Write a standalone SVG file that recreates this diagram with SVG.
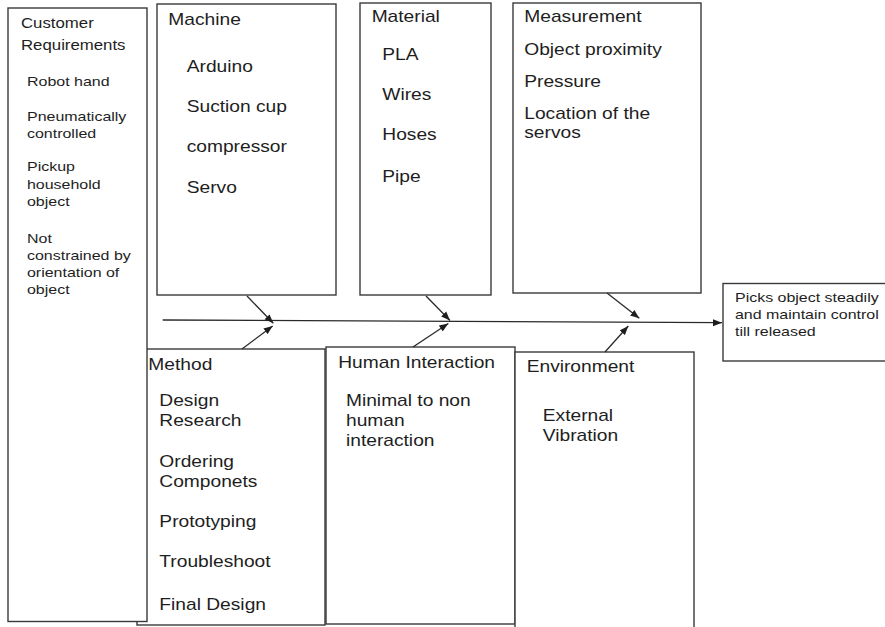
<svg xmlns="http://www.w3.org/2000/svg" width="885" height="627" viewBox="0 0 885 627">
<style>
.box{fill:#fff;stroke:#3a3a3a;stroke-width:1.4}
text{font-family:"Liberation Sans",Arial,sans-serif;fill:#1e1e1e}
.t16{font-size:16px}
.t14{font-size:14px}
.t13{font-size:13.3px}
.conn{stroke:#2a2a2a;stroke-width:1.3;fill:none}
</style>
<defs>
<marker id="ah" markerUnits="userSpaceOnUse" markerWidth="10" markerHeight="8" refX="9" refY="4" orient="auto">
<path d="M0,0.5 L9,4 L0,7.5 Z" fill="#1e1e1e"/>
</marker>
</defs>
<rect width="885" height="627" fill="#fff"/>

<g id="method">
<rect class="box" x="137" y="349" width="188" height="276"/>
<g transform="scale(1.2 1)" class="t16">
<text x="123.6" y="370">Method</text>
<text x="132.8" y="406">Design</text>
<text x="132.8" y="426">Research</text>
<text x="132.8" y="466.7">Ordering</text>
<text x="132.8" y="486.7">Componets</text>
<text x="132.8" y="526.7">Prototyping</text>
<text x="132.8" y="566.7">Troubleshoot</text>
<text x="132.8" y="610">Final Design</text>
</g>
</g>

<g id="customer">
<rect class="box" x="8" y="8" width="139" height="613.5"/>
<g transform="scale(1.2 1)">
<text class="t14" x="17.5" y="28.3">Customer</text>
<text class="t14" x="17.5" y="50">Requirements</text>
<text class="t13" x="22.5" y="86">Robot hand</text>
<text class="t13" x="22.5" y="121.5">Pneumatically</text>
<text class="t13" x="22.5" y="138.5">controlled</text>
<text class="t13" x="22.5" y="171.5">Pickup</text>
<text class="t13" x="22.5" y="189">household</text>
<text class="t13" x="22.5" y="206.5">object</text>
<text class="t13" x="22.5" y="243">Not</text>
<text class="t13" x="22.5" y="260">constrained by</text>
<text class="t13" x="22.5" y="277">orientation of</text>
<text class="t13" x="22.5" y="294">object</text>
</g>
</g>

<g id="machine">
<rect class="box" x="157" y="4" width="179" height="291"/>
<g transform="scale(1.2 1)" class="t16">
<text x="140.3" y="25">Machine</text>
<text x="155.6" y="71.7">Arduino</text>
<text x="155.6" y="112.3">Suction cup</text>
<text x="155.6" y="151.7">compressor</text>
<text x="155.6" y="192.7">Servo</text>
</g>
</g>

<g id="material">
<rect class="box" x="360" y="3" width="131" height="292"/>
<g transform="scale(1.2 1)" class="t16">
<text x="309.7" y="22.3">Material</text>
<text x="318.6" y="60">PLA</text>
<text x="318.6" y="100">Wires</text>
<text x="318.6" y="140">Hoses</text>
<text x="318.6" y="181.7">Pipe</text>
</g>
</g>

<g id="measurement">
<rect class="box" x="513" y="3" width="188" height="290"/>
<g transform="scale(1.2 1)" class="t16">
<text x="436.9" y="22.3">Measurement</text>
<text x="436.9" y="55">Object proximity</text>
<text x="436.9" y="87.3">Pressure</text>
<text x="436.9" y="119.3">Location of the</text>
<text x="436.9" y="138">servos</text>
</g>
</g>

<g id="human-interaction">
<rect class="box" x="326" y="347" width="189" height="277"/>
<g transform="scale(1.2 1)" class="t16">
<text x="281.9" y="368.3">Human Interaction</text>
<text x="288.3" y="405.7">Minimal to non</text>
<text x="288.3" y="425.7">human</text>
<text x="288.3" y="445.7">interaction</text>
</g>
</g>

<g id="environment">
<rect class="box" x="515" y="352" width="179" height="290"/>
<g transform="scale(1.2 1)" class="t16">
<text x="438.9" y="371.7">Environment</text>
<text x="452.3" y="420.7">External</text>
<text x="452.3" y="440.7">Vibration</text>
</g>
</g>

<g id="result">
<rect class="box" x="723" y="283.5" width="170" height="77.5"/>
<g transform="scale(1.2 1)" class="t13">
<text x="612.5" y="302.5">Picks object steadily</text>
<text x="612.5" y="319.5">and maintain control</text>
<text x="612.5" y="336.5">till released</text>
</g>
</g>

<g id="connectors">
<line class="conn" x1="162.7" y1="320" x2="722" y2="322.7" marker-end="url(#ah)"/>
<line class="conn" x1="247" y1="296" x2="273.3" y2="323.3" marker-end="url(#ah)"/>
<line class="conn" x1="242" y1="349" x2="272.7" y2="326" marker-end="url(#ah)"/>
<line class="conn" x1="426" y1="296" x2="450" y2="320.5" marker-end="url(#ah)"/>
<line class="conn" x1="413" y1="347" x2="448.3" y2="323.5" marker-end="url(#ah)"/>
<line class="conn" x1="607" y1="293" x2="639.3" y2="318.3" marker-end="url(#ah)"/>
<line class="conn" x1="605" y1="352" x2="628.3" y2="326" marker-end="url(#ah)"/>
</g>
</svg>
